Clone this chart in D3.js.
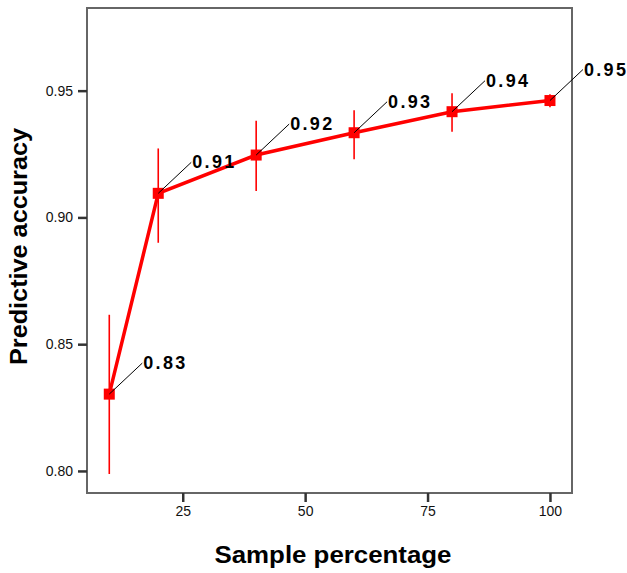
<!DOCTYPE html>
<html>
<head>
<meta charset="utf-8">
<script src="https://cdn.jsdelivr.net/npm/d3@7"></script>
<style>
  html, body { margin: 0; padding: 0; background: #fff; }
  svg { display: block; }
</style>
</head>
<body>
<svg id="chart" width="627" height="573"></svg>
<script>
// ---- data ----
const samplePct = [10, 20, 40, 60, 80, 100];
const accuracy  = [0.8303, 0.9095, 0.9246, 0.9334, 0.9417, 0.9461];
const errLow    = [0.7988, 0.8900, 0.9104, 0.9229, 0.9338, 0.9435];
const errHigh   = [0.8616, 0.9272, 0.9381, 0.9423, 0.9490, 0.9486];
const pointLabels = ["0.83", "0.91", "0.92", "0.93", "0.94", "0.95"];
const xTicks = [25, 50, 75, 100];
const yTicks = [0.80, 0.85, 0.90, 0.95];
const xTitle = "Sample percentage";
const yTitle = "Predictive accuracy";

const data = samplePct.map((d, i) => ({
  x: d, y: accuracy[i], lo: errLow[i], hi: errHigh[i], label: pointLabels[i]
}));

// ---- layout ----
const plotLeft = 87, plotRight = 572, plotTop = 8, plotBottom = 493;
const svg = d3.select("#chart");

const x = d3.scaleLinear().domain([5.45, 104.5]).range([plotLeft, plotRight]);
const y = d3.scaleLinear().domain([0.7913, 0.9826]).range([plotBottom, plotTop]);

// frame
svg.append("rect")
  .attr("x", plotLeft).attr("y", plotTop)
  .attr("width", plotRight - plotLeft).attr("height", plotBottom - plotTop)
  .attr("fill", "none").attr("stroke", "#666").attr("stroke-width", 2);

// axes
const yAxis = svg.append("g")
  .attr("transform", `translate(${plotLeft},0)`)
  .call(d3.axisLeft(y).tickValues(yTicks).tickFormat(d3.format(".2f")).tickSize(9).tickPadding(5));
const xAxis = svg.append("g")
  .attr("transform", `translate(0,${plotBottom})`)
  .call(d3.axisBottom(x).tickValues(xTicks).tickFormat(d3.format("d")).tickSize(9).tickPadding(4));

[xAxis, yAxis].forEach(g => {
  g.select(".domain").remove();
  g.selectAll(".tick line").attr("stroke", "#333").attr("stroke-width", 2.5);
  g.selectAll(".tick text")
    .attr("fill", "#111")
    .style("font-family", "'Liberation Sans', Arial, sans-serif")
    .style("font-size", "14px");
});

// error bars
svg.append("g").selectAll("line")
  .data(data).join("line")
  .attr("x1", d => x(d.x)).attr("x2", d => x(d.x))
  .attr("y1", d => y(d.lo)).attr("y2", d => y(d.hi))
  .attr("stroke", "#ff0000").attr("stroke-width", 1.6);

// line
svg.append("path")
  .datum(data)
  .attr("fill", "none")
  .attr("stroke", "#ff0000")
  .attr("stroke-width", 3.5)
  .attr("d", d3.line().x(d => x(d.x)).y(d => y(d.y)));

// markers
const ms = 11;
svg.append("g").selectAll("rect")
  .data(data).join("rect")
  .attr("x", d => x(d.x) - ms / 2).attr("y", d => y(d.y) - ms / 2)
  .attr("width", ms).attr("height", ms)
  .attr("fill", "#ff0000");

// leader lines and labels
const ldx = 33, ldy = -31;
svg.append("g").selectAll("line")
  .data(data).join("line")
  .attr("x1", d => x(d.x)).attr("y1", d => y(d.y))
  .attr("x2", d => x(d.x) + ldx).attr("y2", d => y(d.y) + ldy)
  .attr("stroke", "#000").attr("stroke-width", 1);

svg.append("g").selectAll("text")
  .data(data).join("text")
  .attr("x", d => x(d.x) + ldx + 1)
  .attr("y", d => y(d.y) + ldy + 6)
  .attr("textLength", 42)
  .attr("lengthAdjust", "spacing")
  .style("font-family", "'Liberation Sans', Arial, sans-serif")
  .style("font-weight", "bold")
  .style("font-size", "18px")
  .attr("fill", "#000")
  .text(d => d.label);

// titles
svg.append("text")
  .attr("x", 333).attr("y", 563)
  .attr("text-anchor", "middle")
  .attr("textLength", 237).attr("lengthAdjust", "spacingAndGlyphs")
  .style("font-family", "'Liberation Sans', Arial, sans-serif")
  .style("font-weight", "bold")
  .style("font-size", "24px")
  .attr("fill", "#000")
  .text(xTitle);

svg.append("text")
  .attr("transform", "translate(27,246.5) rotate(-90)")
  .attr("text-anchor", "middle")
  .attr("textLength", 237).attr("lengthAdjust", "spacingAndGlyphs")
  .style("font-family", "'Liberation Sans', Arial, sans-serif")
  .style("font-weight", "bold")
  .style("font-size", "24px")
  .attr("fill", "#000")
  .text(yTitle);
</script>
</body>
</html>
